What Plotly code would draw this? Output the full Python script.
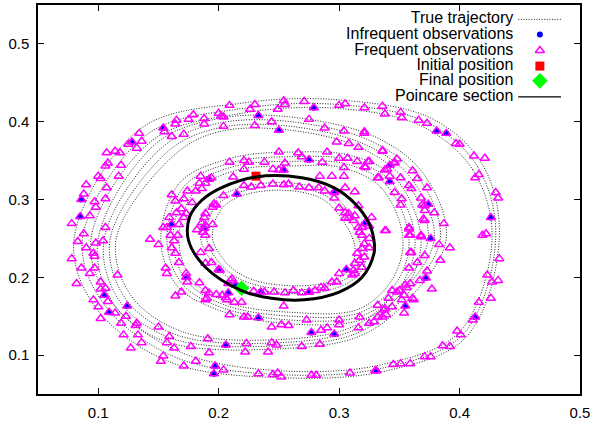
import plotly.graph_objects as go

# ---------------- data ----------------
# True trajectory: strands of the quasi-periodic orbit, each a closed loop
# (points listed counter-clockwise starting at the right-hand side)
A1 = [(0.433,0.25),(0.419,0.345),(0.377,0.404),(0.30,0.428),(0.22,0.424),(0.135,0.391),(0.080,0.25),(0.097,0.163),(0.158,0.092),(0.25,0.071),(0.34,0.080),(0.406,0.124)]
A2 = [(0.430,0.25),(0.415,0.342),(0.373,0.399),(0.30,0.422),(0.22,0.417),(0.140,0.383),(0.087,0.25),(0.104,0.167),(0.163,0.098),(0.25,0.075),(0.338,0.084),(0.403,0.127)]
A3 = [(0.427,0.25),(0.411,0.338),(0.369,0.394),(0.30,0.417),(0.22,0.411),(0.145,0.376),(0.094,0.25),(0.110,0.170),(0.168,0.104),(0.25,0.080),(0.336,0.088),(0.400,0.130)]
B1 = [(0.389,0.25),(0.371,0.331),(0.332,0.379),(0.26,0.406),(0.20,0.404),(0.148,0.372),(0.100,0.25),(0.112,0.168),(0.155,0.118),(0.25,0.108),(0.318,0.125),(0.358,0.172)]
B2 = [(0.384,0.25),(0.366,0.328),(0.328,0.374),(0.26,0.400),(0.20,0.398),(0.153,0.367),(0.105,0.25),(0.117,0.171),(0.160,0.122),(0.25,0.112),(0.316,0.129),(0.355,0.176)]
B3 = [(0.379,0.25),(0.361,0.325),(0.324,0.369),(0.26,0.394),(0.20,0.392),(0.158,0.362),(0.110,0.25),(0.122,0.174),(0.165,0.126),(0.25,0.116),(0.314,0.133),(0.352,0.180)]
B4 = [(0.374,0.25),(0.356,0.322),(0.320,0.365),(0.26,0.389),(0.20,0.387),(0.163,0.357),(0.115,0.25),(0.127,0.177),(0.170,0.130),(0.25,0.120),(0.312,0.137),(0.349,0.184)]
C1 = [(0.368,0.25),(0.347,0.327),(0.311,0.356),(0.26,0.361),(0.21,0.353),(0.168,0.322),(0.152,0.25),(0.165,0.19),(0.198,0.159),(0.26,0.140),(0.322,0.147),(0.356,0.188)]
C2 = [(0.363,0.25),(0.343,0.323),(0.308,0.351),(0.26,0.355),(0.212,0.348),(0.172,0.318),(0.157,0.25),(0.169,0.193),(0.201,0.162),(0.26,0.145),(0.320,0.151),(0.352,0.191)]
C3 = [(0.358,0.25),(0.339,0.319),(0.305,0.346),(0.26,0.349),(0.214,0.343),(0.176,0.314),(0.162,0.25),(0.173,0.196),(0.204,0.165),(0.26,0.150),(0.318,0.155),(0.348,0.194)]
C4 = [(0.353,0.25),(0.335,0.315),(0.302,0.341),(0.26,0.343),(0.216,0.338),(0.180,0.310),(0.167,0.25),(0.177,0.199),(0.207,0.168),(0.26,0.155),(0.316,0.159),(0.344,0.197)]
D1 = [(0.323,0.24),(0.305,0.290),(0.289,0.311),(0.25,0.322),(0.21,0.311),(0.191,0.291),(0.185,0.25),(0.200,0.210),(0.222,0.189),(0.265,0.179),(0.299,0.187),(0.317,0.205)]
D2 = [(0.318,0.24),(0.302,0.287),(0.286,0.307),(0.25,0.317),(0.213,0.307),(0.196,0.288),(0.190,0.25),(0.204,0.213),(0.225,0.193),(0.265,0.184),(0.296,0.191),(0.313,0.208)]
D3 = [(0.313,0.24),(0.298,0.284),(0.283,0.303),(0.25,0.312),(0.216,0.303),(0.201,0.285),(0.195,0.25),(0.208,0.216),(0.228,0.197),(0.265,0.189),(0.293,0.195),(0.309,0.211)]
strands = [A1, A2, A3, B1, B2, B3, B4, C1, C2, C3, C4, D1, D2, D3]

# Poincare section (closed curve)
poincare = [(0.231,0.329),(0.269,0.328),(0.296,0.315),(0.313,0.295),(0.325,0.269),(0.329,0.247),
            (0.329,0.231),(0.319,0.200),(0.300,0.181),(0.271,0.171),(0.244,0.173),(0.219,0.183),
            (0.189,0.213),(0.175,0.247),(0.176,0.278),(0.186,0.299),(0.202,0.315),(0.231,0.329)]

# Infrequent observations
infrequent = [(0.154,0.392),(0.128,0.374),(0.086,0.300),(0.085,0.278),(0.161,0.268),(0.192,0.326),
              (0.215,0.307),(0.188,0.263),(0.279,0.418),(0.233,0.408),(0.250,0.389),(0.275,0.351),
              (0.254,0.338),(0.296,0.309),(0.321,0.269),(0.381,0.388),(0.389,0.385),(0.426,0.277),
              (0.342,0.344),(0.342,0.323),(0.374,0.294),(0.376,0.250),(0.372,0.199),(0.355,0.163),
              (0.413,0.149),(0.306,0.210),(0.275,0.181),(0.235,0.181),(0.208,0.180),(0.233,0.148),
              (0.277,0.129),(0.296,0.127),(0.206,0.113),(0.331,0.080),(0.105,0.177),(0.109,0.155),
              (0.124,0.163),(0.197,0.086),(0.196,0.076),(0.173,0.200),(0.200,0.210),(0.214,0.190)]

# Frequent observations, grouped by region of the picture
freq_outer = [(0.209,0.421),(0.200,0.411),(0.204,0.406),(0.188,0.404),(0.179,0.409),(0.175,0.403),(0.165,0.402),
              (0.164,0.397),(0.188,0.397),(0.204,0.394),(0.171,0.384),(0.161,0.381),(0.155,0.387),(0.134,0.385),
              (0.136,0.375),(0.125,0.371),(0.132,0.366),(0.107,0.360),(0.114,0.362),(0.118,0.360),(0.108,0.347),
              (0.106,0.343),(0.119,0.344),(0.100,0.330),(0.102,0.327),(0.117,0.330),(0.090,0.319),(0.107,0.315),
              (0.088,0.307),(0.097,0.297),(0.106,0.301),(0.098,0.290),(0.093,0.279),(0.078,0.269),(0.088,0.256),
              (0.106,0.264),(0.230,0.422),(0.226,0.416),(0.254,0.427),(0.255,0.422),(0.249,0.416),(0.271,0.426),
              (0.300,0.421),(0.305,0.423),(0.321,0.418),(0.336,0.420),(0.338,0.410),(0.202,0.407),(0.230,0.395),
              (0.244,0.400),(0.275,0.403),(0.288,0.392),(0.304,0.388),(0.321,0.387),(0.298,0.374),(0.308,0.372),
              (0.316,0.367),(0.336,0.363),(0.351,0.412),(0.352,0.405),(0.366,0.402),(0.373,0.398),(0.397,0.372),
              (0.400,0.371),(0.412,0.356),(0.421,0.353),(0.413,0.328),(0.416,0.332),(0.430,0.309),(0.432,0.302),
              (0.422,0.256),(0.419,0.254),(0.433,0.224),(0.423,0.203),(0.427,0.194),(0.432,0.196),(0.426,0.173),
              (0.416,0.168),(0.411,0.145),(0.398,0.131),(0.401,0.126),(0.386,0.112),(0.392,0.111),(0.371,0.098),
              (0.376,0.098),(0.359,0.089),(0.345,0.088),(0.351,0.089),(0.204,0.081),(0.233,0.076),(0.245,0.075),
              (0.249,0.077),(0.252,0.072),(0.277,0.074),(0.281,0.074),(0.309,0.077),(0.330,0.080),
              (0.104,0.247),(0.083,0.246),(0.090,0.238),(0.098,0.244),(0.096,0.231),(0.097,0.227),(0.078,0.224),
              (0.086,0.212),(0.097,0.212),(0.093,0.205),(0.082,0.192),(0.102,0.194),(0.116,0.203),(0.102,0.185),
              (0.106,0.186),(0.108,0.169),(0.096,0.171),(0.100,0.162),(0.102,0.147),(0.114,0.154),(0.123,0.150),
              (0.119,0.141),(0.132,0.141),(0.131,0.138),(0.121,0.126),(0.133,0.126),(0.136,0.116),(0.127,0.109),
              (0.150,0.136),(0.159,0.124),(0.157,0.116),(0.163,0.109),(0.154,0.099),(0.152,0.092),(0.171,0.086),
              (0.181,0.092),(0.177,0.111),(0.191,0.121),(0.192,0.103),(0.223,0.115),(0.222,0.104),(0.244,0.116),
              (0.248,0.113),(0.269,0.111),(0.284,0.114),(0.241,0.104)]
freq_middle = [(0.321,0.385),(0.336,0.362),(0.325,0.349),(0.322,0.341),(0.338,0.338),(0.346,0.348),(0.348,0.352),
               (0.332,0.328),(0.361,0.337),(0.351,0.328),(0.365,0.327),(0.346,0.309),(0.358,0.318),(0.360,0.314),
               (0.373,0.315),(0.352,0.301),(0.368,0.302),(0.371,0.292),(0.379,0.283),(0.370,0.275),(0.371,0.273),
               (0.387,0.269),(0.358,0.264),(0.359,0.254),(0.368,0.252),(0.327,0.277),(0.351,0.293),(0.369,0.293),
               (0.339,0.260),(0.358,0.262),(0.358,0.254),(0.368,0.254),(0.371,0.286),(0.383,0.242),(0.392,0.238),
               (0.360,0.232),(0.371,0.228),(0.384,0.222),(0.365,0.219),(0.358,0.212),(0.373,0.208),(0.367,0.196),
               (0.377,0.185),(0.355,0.190),(0.344,0.183),(0.350,0.183),(0.361,0.173),(0.352,0.171),(0.344,0.162),
               (0.337,0.158),(0.354,0.154),(0.339,0.152),(0.338,0.260),(0.348,0.181),(0.354,0.177),(0.341,0.173),
               (0.359,0.192),(0.356,0.187),(0.362,0.171),(0.359,0.232)]
freq_ring = [(0.250,0.361),(0.266,0.360),(0.269,0.355),(0.290,0.361),(0.300,0.353),(0.307,0.353),(0.315,0.349),
             (0.324,0.349),(0.321,0.342),(0.304,0.341),(0.286,0.348),(0.255,0.347),(0.238,0.348),(0.221,0.350),
             (0.225,0.348),(0.209,0.348),(0.221,0.339),(0.245,0.339),(0.250,0.338),(0.284,0.330),(0.294,0.330),
             (0.304,0.330),(0.212,0.329),(0.189,0.321),(0.194,0.328),(0.340,0.339),(0.346,0.347),(0.342,0.330),
             (0.333,0.328),(0.185,0.330),(0.184,0.321),(0.186,0.314),(0.181,0.311),(0.174,0.311),
             (0.161,0.306),(0.171,0.301),(0.178,0.296),(0.164,0.298),(0.169,0.288),(0.165,0.283),(0.173,0.282),
             (0.159,0.277),(0.171,0.277),(0.154,0.264),(0.166,0.254),(0.143,0.249),(0.150,0.242),
             (0.157,0.264),(0.160,0.254),(0.163,0.247),(0.161,0.238),(0.164,0.231),(0.156,0.212),(0.157,0.205),
             (0.167,0.219),(0.173,0.205),(0.174,0.194),(0.164,0.176),(0.169,0.181),(0.184,0.193),(0.189,0.183),
             (0.192,0.180),(0.198,0.178),(0.190,0.173),(0.189,0.171),(0.203,0.177),(0.207,0.171),(0.167,0.268),
             (0.206,0.174),(0.213,0.168),(0.219,0.168),(0.254,0.163),(0.221,0.149),(0.224,0.149),(0.209,0.152),
             (0.273,0.145),(0.244,0.136),(0.252,0.139),(0.258,0.138),(0.285,0.132),(0.290,0.135),(0.300,0.145),
             (0.317,0.149),(0.316,0.135),(0.300,0.139),(0.325,0.141),(0.329,0.143),(0.332,0.149),(0.336,0.149),
             (0.338,0.160),(0.332,0.164)]
freq_inner = [(0.204,0.305),(0.198,0.293),(0.195,0.290),(0.189,0.282),(0.186,0.270),(0.195,0.268),(0.189,0.254),
              (0.221,0.318),(0.227,0.316),(0.235,0.318),(0.245,0.320),(0.254,0.319),(0.258,0.320),(0.267,0.316),
              (0.275,0.315),(0.283,0.315),(0.288,0.311),(0.296,0.310),(0.305,0.315),(0.313,0.310),(0.296,0.302),
              (0.300,0.289),(0.305,0.283),(0.308,0.282),(0.313,0.279),(0.316,0.292),(0.308,0.277),(0.312,0.273),
              (0.316,0.264),(0.305,0.276),(0.196,0.294),(0.188,0.277),(0.187,0.258),(0.317,0.258),
              (0.319,0.254),(0.325,0.250),(0.321,0.243),(0.319,0.237),(0.325,0.238),(0.315,0.231),(0.321,0.226),
              (0.317,0.222),(0.313,0.218),(0.319,0.213),(0.312,0.209),(0.313,0.205),(0.300,0.205),(0.311,0.203),
              (0.294,0.194),(0.298,0.194),(0.285,0.187),(0.288,0.186),(0.280,0.183),(0.275,0.181),(0.269,0.180),
              (0.262,0.183),(0.255,0.180),(0.246,0.181),(0.238,0.181),(0.229,0.182),(0.210,0.196),(0.208,0.192),
              (0.325,0.266),(0.319,0.264),(0.182,0.261),(0.189,0.267),(0.192,0.237),(0.185,0.232),(0.189,0.218),
              (0.194,0.219),(0.201,0.209),(0.211,0.198)]

initial_pos = (0.231, 0.330)
final_pos = (0.219, 0.186)

x_ticks = [0.1, 0.2, 0.3, 0.4, 0.5]
y_ticks = [0.1, 0.2, 0.3, 0.4, 0.5]
legend_labels = ["True trajectory", "Infrequent observations", "Frequent observations",
                 "Initial position", "Final position", "Poincare section"]

# ---------------- build ----------------
FONT = "Liberation Sans, Arial, Helvetica, sans-serif"

traj_x, traj_y = [], []
for s in strands:
    loop = s + [s[0]]
    traj_x += [p[0] for p in loop] + [None]
    traj_y += [p[1] for p in loop] + [None]

frequent = freq_outer + freq_middle + freq_ring + freq_inner + infrequent

fig = go.Figure()
traj_line = dict(color="rgba(0,0,0,0.85)", width=1, dash="1px,1.6px")
fig.add_trace(go.Scatter(x=traj_x, y=traj_y, mode="lines",
                         line=dict(shape="spline", smoothing=1.0, **traj_line), hoverinfo="skip"))
blue_m = dict(symbol="circle", size=6, color="#0000ff")
fig.add_trace(go.Scatter(x=[p[0] for p in infrequent], y=[p[1] for p in infrequent], mode="markers",
                         marker=blue_m))
tri_m = dict(symbol="triangle-up-open", size=8, color="#ff00ff", line=dict(width=1.5, color="#ff00ff"))
fig.add_trace(go.Scatter(x=[p[0] for p in frequent], y=[p[1] for p in frequent], mode="markers",
                         marker=tri_m))
sq_m = dict(symbol="square", size=9, color="#ff0000")
fig.add_trace(go.Scatter(x=[initial_pos[0]], y=[initial_pos[1]], mode="markers", marker=sq_m))
dia_m = dict(symbol="diamond", size=12, color="#00ff00")
fig.add_trace(go.Scatter(x=[final_pos[0]], y=[final_pos[1]], mode="markers", marker=dia_m))
fig.add_trace(go.Scatter(x=[p[0] for p in poincare], y=[p[1] for p in poincare], mode="lines",
                         line=dict(shape="spline", smoothing=1.0, color="black", width=3)))

# ---------------- legend (gnuplot style: text right-aligned, sample to the right) ----------------
# drawn on a hidden overlay axis spanning the plot area (0..1 in both directions)
leg_text_x = 0.877
leg_line_x = [0.886, 0.965]
leg_mark_x = 0.926
leg_rows = [0.963, 0.924, 0.883, 0.843, 0.805, 0.764]
samples = [
    dict(mode="lines", line=dict(color="rgba(0,0,0,0.85)", width=1, dash="1px,1.6px")),
    dict(mode="markers", marker=blue_m),
    dict(mode="markers", marker=tri_m),
    dict(mode="markers", marker=sq_m),
    dict(mode="markers", marker=dia_m),
    dict(mode="lines", line=dict(color="black", width=1.2)),
]
for yy, smp in zip(leg_rows, samples):
    if smp["mode"] == "lines":
        fig.add_trace(go.Scatter(x=leg_line_x, y=[yy, yy], xaxis="x2", yaxis="y2", hoverinfo="skip", **smp))
    else:
        fig.add_trace(go.Scatter(x=[leg_mark_x], y=[yy], xaxis="x2", yaxis="y2", hoverinfo="skip", **smp))
fig.add_trace(go.Scatter(x=[leg_text_x] * len(legend_labels), y=leg_rows, text=legend_labels,
                         mode="text", textposition="middle left", xaxis="x2", yaxis="y2",
                         textfont=dict(family=FONT, size=16, color="black"), hoverinfo="skip"))

axis_common = dict(showgrid=False, zeroline=False, showline=True, linecolor="black", linewidth=1.5,
                   mirror="ticks", ticks="inside", ticklen=6, tickwidth=1, tickcolor="black",
                   tickformat=".1f", tickfont=dict(family=FONT, size=15, color="black"))
fig.update_layout(
    width=593, height=424,
    margin=dict(l=38, r=13, t=3, b=30),
    paper_bgcolor="white", plot_bgcolor="white",
    showlegend=False,
    xaxis=dict(range=[0.05, 0.5], tickvals=x_ticks, ticklabelstandoff=4, **axis_common),
    yaxis=dict(range=[0.05, 0.55], tickvals=y_ticks, ticklabelstandoff=4, **axis_common),
    xaxis2=dict(overlaying="x", range=[0, 1], visible=False, fixedrange=True),
    yaxis2=dict(overlaying="y", range=[0, 1], visible=False, fixedrange=True),
)

fig.write_html("out.html", config={"displayModeBar": False},
               post_script="document.body.style.margin='0';document.body.style.overflow='hidden';")
